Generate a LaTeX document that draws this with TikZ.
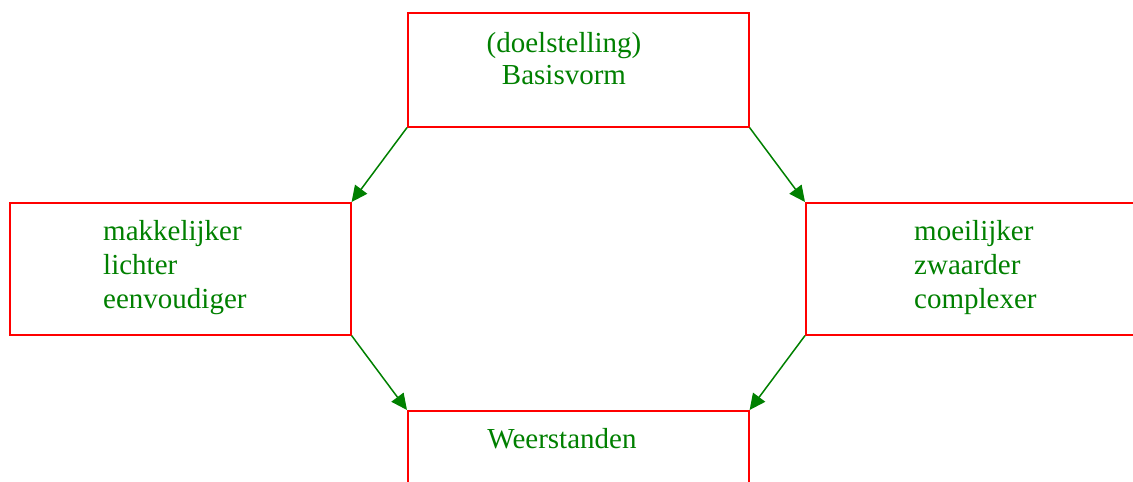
\documentclass[tikz,border=0pt]{standalone}
\usepackage{fontspec}
\setmainfont{Liberation Serif}
\usetikzlibrary{arrows.meta}
\definecolor{boxred}{RGB}{255,0,0}
\definecolor{txtgreen}{RGB}{0,128,0}
\begin{document}
\begin{tikzpicture}[x=1pt,y=-1pt,
  box/.style={draw=boxred,line width=1.6pt,rectangle,inner sep=0pt,
    minimum width=341pt,anchor=north west},
  lbl/.style={text=txtgreen,font=\fontsize{29pt}{34pt}\selectfont,inner sep=0pt},
  arr/.style={draw=txtgreen,line width=1.5pt,-{Triangle[length=16pt,width=15pt]}}]
\useasboundingbox (0,0) rectangle (1133,482);
\clip (0,0) rectangle (1133,482);
% the four boxes
\node[box,minimum height=114pt] (top) at (407,12) {};
\node[box,minimum height=132pt] (left) at (9,202) {};
\node[box,minimum height=132pt] (right) at (805,202) {};
\node[box,minimum height=114pt] (bottom) at (407,410) {};
% box texts
\node[lbl,anchor=base] (t1) at (564,52) {(doelstelling)};
\node[lbl,anchor=base] (t2) at (564,84) {Basisvorm};
\node[lbl,anchor=base west] (l1) at (103,240) {makkelijker};
\node[lbl,anchor=base west] (l2) at (103,274) {lichter};
\node[lbl,anchor=base west] (l3) at (103,308) {eenvoudiger};
\node[lbl,anchor=base west] (r1) at (914,240) {moeilijker};
\node[lbl,anchor=base west] (r2) at (914,274) {zwaarder};
\node[lbl,anchor=base west] (r3) at (914,308) {complexer};
\node[lbl,anchor=base] (b1) at (562,448) {Weerstanden};
% connectors between corners
\draw[arr] (top.south west) -- (left.north east);
\draw[arr] (top.south east) -- (right.north west);
\draw[arr] (left.south east) -- (bottom.north west);
\draw[arr] (right.south west) -- (bottom.north east);
\end{tikzpicture}
\end{document}
